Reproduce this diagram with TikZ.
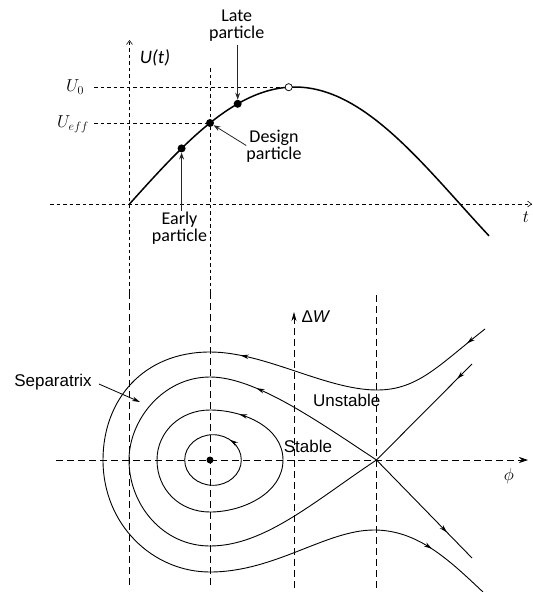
\documentclass[tikz,border=0pt]{standalone}
\usepackage{fontspec}
\setmainfont{Carlito}
\newfontfamily\arialf{Liberation Sans}
\usetikzlibrary{arrows.meta,decorations.markings}
\newcommand\flowtip{\arrow{Stealth[length=8pt,width=4.5pt]}}
\begin{document}
\begin{tikzpicture}[x=1pt,y=-1pt,
 dashA/.style={dash pattern=on 3.5pt off 3pt, line width=0.6pt},
 dashB/.style={dash pattern=on 7pt off 4pt, line width=0.7pt},
 dot/.style={circle, fill=black, inner sep=0pt, minimum size=8pt},
 lbl/.style={font=\fontsize{18}{17}\selectfont, align=center, inner sep=1pt},
 blbl/.style={font=\arialf\fontsize{17}{20}\selectfont, inner sep=1pt},
 ulbl/.style={font=\fontsize{18}{18}\selectfont, inner sep=1pt},
 ptr/.style={draw=black!85, line width=0.8pt, -{Stealth[length=7pt,width=5pt,inset=2.5pt]}},
 orbit/.style={line width=0.9pt},
]
\useasboundingbox (0,0) rectangle (533,592);

% ---------- guides ----------
\coordinate (Vtop1) at (129.5,40); \coordinate (Vmid1) at (129.5,292); \coordinate (Vbot1) at (129.5,588);
\draw[dashA, -{Straight Barb[length=4pt,width=6pt]}] (Vmid1) -- (Vtop1);
\draw[dashB] (Vmid1) -- (Vbot1);
\coordinate (Vtop2) at (210,68); \coordinate (Vmid2) at (210,292); \coordinate (Vbot2) at (210,588);
\draw[dashA] (Vtop2) -- (Vmid2);
\draw[dashB] (Vmid2) -- (Vbot2);
\coordinate (tL) at (50,204); \coordinate (tR) at (532,204);
\draw[dashA, -{Straight Barb[length=4pt,width=6pt]}] (tL) -- (tR);

% ---------- top curve ----------
\node[circle, draw, fill=white, inner sep=0pt, minimum size=7pt, line width=0.6pt] (peak) at (288.7,87.2) {};
\coordinate (U0L) at (94,87.2);
\coordinate (UeL) at (94,123.0);
\draw[dashA] (U0L) -- (peak.west);
\draw[dashA] (UeL) -- (210,123.0);
\draw[line width=1.5pt] plot[domain=129.5:489, samples=150] (\x, {204-117*sin((\x-129.5)*0.544629)});
\node[circle, draw, fill=white, inner sep=0pt, minimum size=7pt, line width=0.6pt] at (peak) {};
\node[dot] (earlyd) at (181.6,148.4) {};
\node[dot] (designd) at (210,123.0) {};
\node[dot] (lated) at (237.7,103.8) {};

\node[lbl] (late) at (236.7,25.5) {Late\\particle};
\node[lbl] (design) at (274,146.5) {Design\\particle};
\node[lbl] (early) at (179.5,228.5) {Early\\particle};
\draw[ptr] (lated |- late.south) ++(0,3) -- (lated.north);
\draw[ptr] (design.west) ++(1,-1) -- (designd);
\draw[ptr] (earlyd |- early.north) -- (earlyd.south);

\node[font=\itshape\fontsize{19}{19}\selectfont] (Ut) at (155,58) {U(t)};
\node[ulbl] (U0) at (75,87) {$U_0$};
\node[ulbl] (Ueff) at (73,124) {$U_{eff}$};
\node[ulbl] (tl) at (526,217) {$t$};

% ---------- bottom axes ----------
\coordinate (phiL) at (56,460); \coordinate (phiR) at (528,460);
\draw[dashB, -{Stealth[length=9pt,width=6pt]}] (phiL) -- (phiR);
\coordinate (dWb) at (294,588); \coordinate (dWt) at (294,312);
\draw[dashB, -{Stealth[length=9pt,width=5pt]}] (dWb) -- (dWt);
\coordinate (Xt) at (376.5,295); \coordinate (Xb) at (376.5,588);
\draw[dashB] (Xt) -- (Xb);

\node[blbl] (dW) at (316,317) {Δ\textit{W}};
\node[ulbl] (phi) at (509,476) {$\phi$};

% ---------- phase space ----------
\node[dot, minimum size=7pt] (ctr) at (210,460) {};
% inner orbit
\draw[orbit, postaction={decorate}, decoration={markings, mark=at position 24pt with {\flowtip}}]
  (241.3,460) arc[start angle=0, end angle=-360, x radius=28.3, y radius=25.3];
% second orbit
\draw[orbit, postaction={decorate}, decoration={markings, mark=at position 68pt with {\flowtip}}]
  (283,460) .. controls (283,427) and (243,410) .. (210,410)
  .. controls (180,410) and (157,432) .. (157,460)
  .. controls (157,490) and (180,512) .. (210,512)
  .. controls (243,512) and (283,493) .. (283,460) -- cycle;
% separatrix
\coordinate (X) at (376.5,460);
\draw[orbit, postaction={decorate}, decoration={markings, mark=at position 140pt with {\flowtip}}]
  (X) .. controls (316,420) and (255,377) .. (210,377)
  .. controls (163,377) and (129,420) .. (129,460)
  .. controls (129,505) and (163,546) .. (210,546)
  .. controls (265,546) and (316,500) .. (X);
\coordinate (URend) at (472,364);
\coordinate (LRend) at (472,558);
\draw[orbit, postaction={decorate}, decoration={markings, mark=at position 21pt with {\flowtip}}]
  (URend) -- (X);
\draw[orbit, postaction={decorate}, decoration={markings, mark=at position 101pt with {\flowtip}}]
  (X) -- (LRend);
% outer unstable
\draw[orbit, postaction={decorate}, decoration={markings,
   mark=at position 23pt with {\flowtip},
   mark=at position 268pt with {\flowtip},
   mark=at position -67pt with {\flowtip}}]
  (485,329) .. controls (439,365) and (418,390) .. (377,390)
  .. controls (326,390) and (265,352) .. (210,352)
  .. controls (143,352) and (103,400) .. (103,460)
  .. controls (103,525) and (153,572) .. (210,572)
  .. controls (275,572) and (326,530) .. (374,530)
  .. controls (418,530) and (449,560) .. (483,592);

\node[blbl] (sep) at (53,382) {Separatrix};
\coordinate (septip) at (140,402);
\draw[line width=0.8pt, -{Stealth[length=8pt,width=4.5pt]}] (sep.east) ++(6,2) -- (septip);
\node[blbl] (unst) at (346.7,400) {Unstable};
\node[blbl] (stab) at (308,446) {Stable};
\end{tikzpicture}
\end{document}
